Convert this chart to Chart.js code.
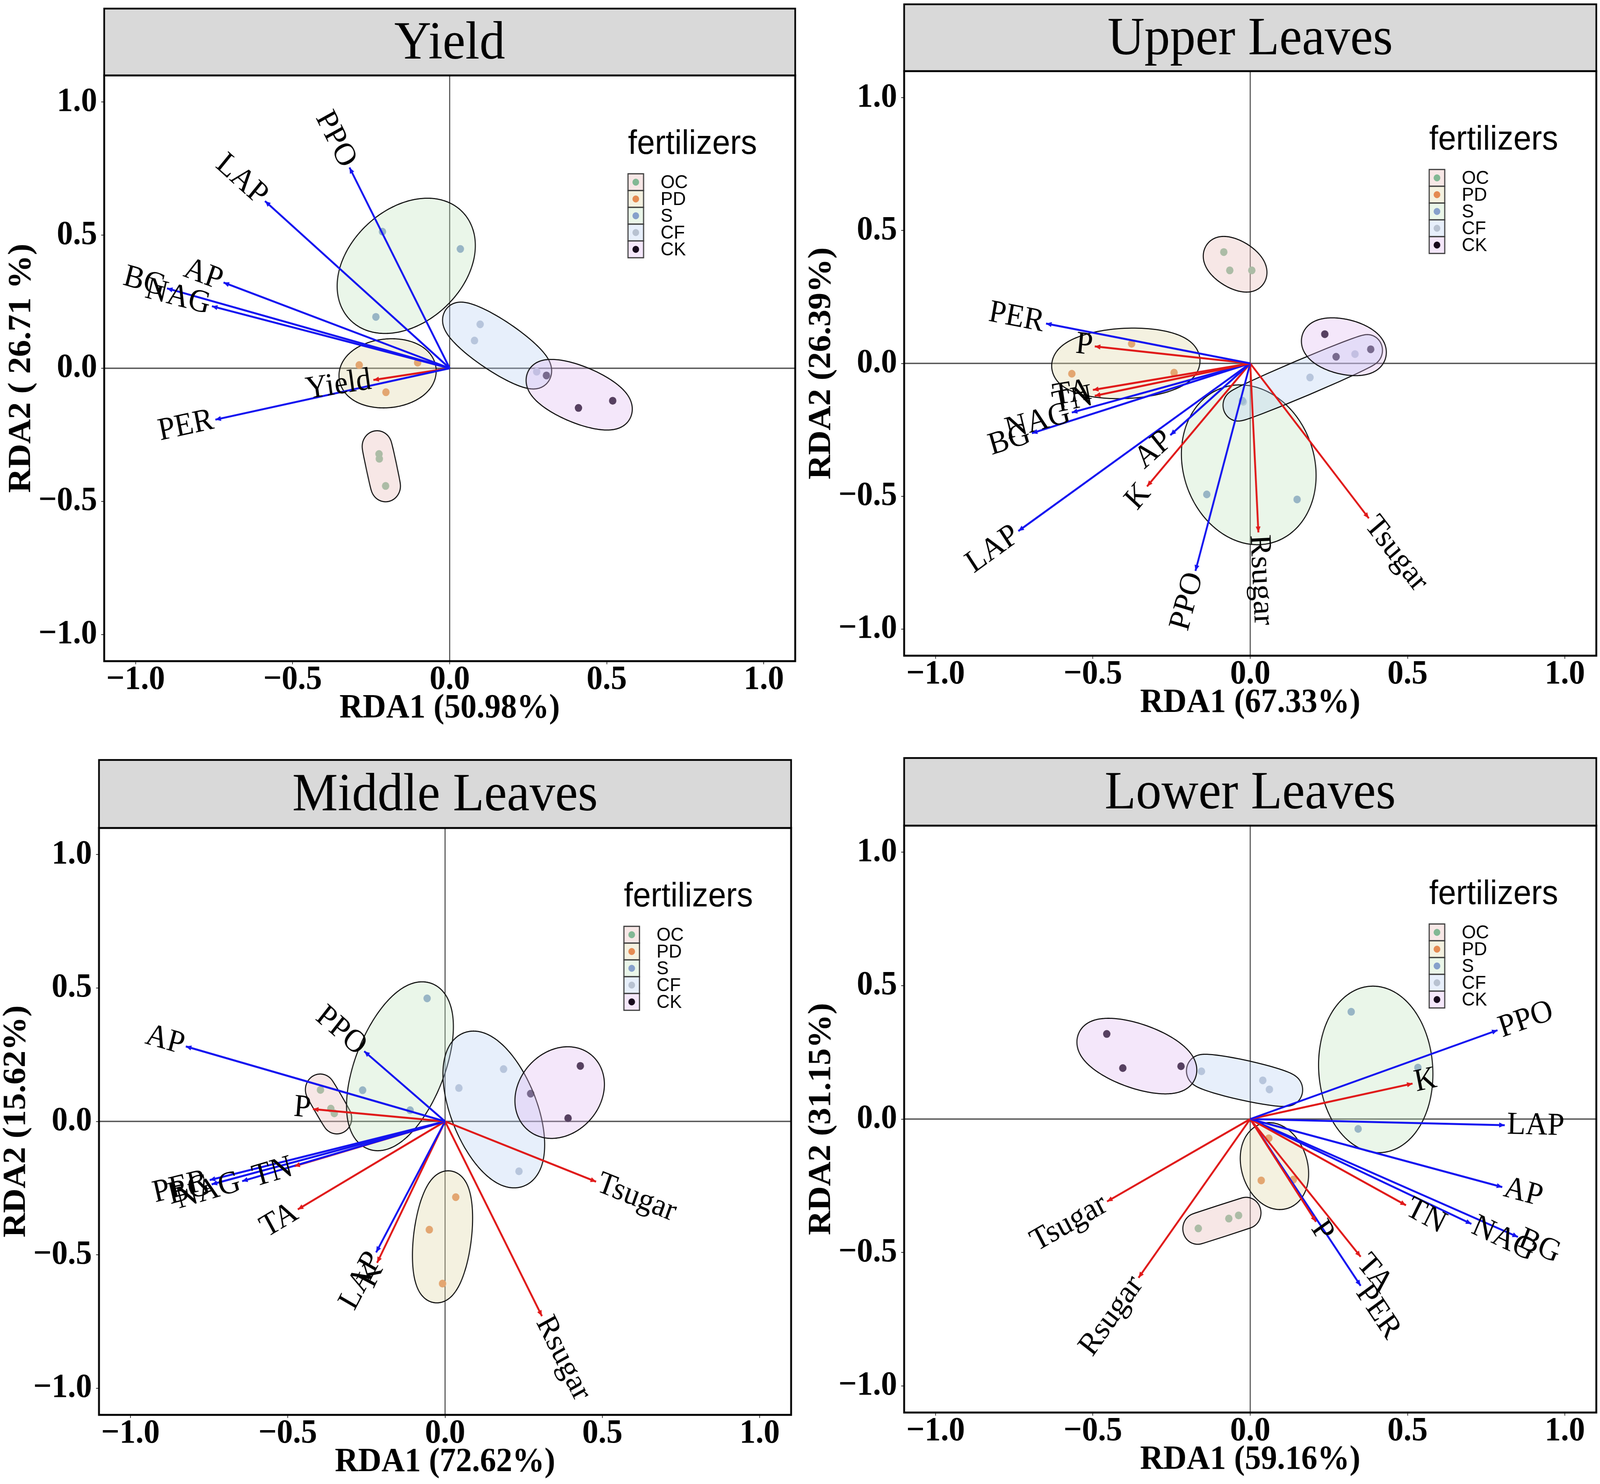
<!DOCTYPE html>
<html>
<head>
<meta charset="utf-8">
<title>RDA - fertilizers</title>
<script src="https://cdn.jsdelivr.net/npm/chart.js@4.4.1/dist/chart.umd.min.js"></script>
<style>
  html, body { margin: 0; padding: 0; background: #fff; overflow: hidden; }
  #page { position: relative; background: #fff; overflow: hidden; }
  #page canvas { position: absolute; }
</style>
</head>
<body>
<div id="page">
  <canvas id="yieldChart"></canvas>
  <canvas id="upperChart"></canvas>
  <canvas id="middleChart"></canvas>
  <canvas id="lowerChart"></canvas>
</div>
<script>
// ------------------------------ data ------------------------------ //
const TICKS = [-1, -0.5, 0, 0.5, 1];
const GROUPS = ['OC', 'PD', 'S', 'CF', 'CK'];
// 15 samples per panel, 3 per fertilizer, always in this order
const SAMPLE_GROUP = ['OC', 'OC', 'OC', 'PD', 'PD', 'PD', 'S', 'S', 'S', 'CF', 'CF', 'CF', 'CK', 'CK', 'CK'];
// variables drawn in red, the rest (enzymes) in blue
const QUALITY_VARS = ['Yield', 'TN', 'TA', 'P', 'K', 'Rsugar', 'Tsugar'];

const PANEL_TITLES = ['Yield', 'Upper Leaves', 'Middle Leaves', 'Lower Leaves'];
const X_TITLES = ['RDA1 (50.98%)', 'RDA1 (67.33%)', 'RDA1 (72.62%)', 'RDA1 (59.16%)'];
const Y_TITLES = ['RDA2 ( 26.71 %)', 'RDA2 (26.39%)', 'RDA2 (15.62%)', 'RDA2 (31.15%)'];

// Yield
const yieldVars = ['PPO', 'LAP', 'AP', 'BG', 'NAG', 'PER', 'Yield'];
const yieldVarX = [-0.319, -0.588, -0.720, -0.900, -0.757, -0.746, -0.243];
const yieldVarY = [0.754, 0.628, 0.322, 0.300, 0.233, -0.193, -0.044];
const yieldSampleX = [-0.225, -0.224, -0.204, -0.288, -0.102, -0.203, -0.214, 0.034, -0.235, 0.097, 0.079, 0.277, 0.308, 0.410, 0.519];
const yieldSampleY = [-0.322, -0.340, -0.442, 0.012, 0.021, -0.090, 0.513, 0.448, 0.193, 0.165, 0.104, -0.013, -0.027, -0.149, -0.122];

// Upper leaves
const upperVars = ['PER', 'P', 'TA', 'TN', 'NAG', 'BG', 'AP', 'K', 'LAP', 'PPO', 'Rsugar', 'Tsugar'];
const upperVarX = [-0.649, -0.494, -0.500, -0.494, -0.567, -0.694, -0.254, -0.328, -0.737, -0.174, 0.026, 0.377];
const upperVarY = [0.150, 0.064, -0.100, -0.122, -0.185, -0.263, -0.270, -0.463, -0.631, -0.781, -0.636, -0.583];
const upperSampleX = [-0.084, -0.065, 0.005, -0.377, -0.567, -0.242, -0.138, 0.149, -0.025, 0.333, 0.190, -0.022, 0.237, 0.273, 0.383];
const upperSampleY = [0.419, 0.350, 0.350, 0.074, -0.039, -0.035, -0.493, -0.512, -0.140, 0.035, -0.053, -0.145, 0.110, 0.025, 0.053];

// Middle leaves
const middleVars = ['AP', 'PPO', 'P', 'PER', 'BG', 'NAG', 'TN', 'TA', 'LAP', 'K', 'Tsugar', 'Rsugar'];
const middleVarX = [-0.824, -0.257, -0.420, -0.748, -0.742, -0.645, -0.479, -0.468, -0.219, -0.216, 0.480, 0.308];
const middleVarY = [0.281, 0.263, 0.046, -0.220, -0.236, -0.224, -0.168, -0.330, -0.491, -0.530, -0.226, -0.730];
const middleSampleX = [-0.396, -0.363, -0.352, 0.034, -0.050, -0.008, -0.057, -0.262, -0.111, 0.186, 0.044, 0.235, 0.430, 0.272, 0.391];
const middleSampleY = [0.118, 0.048, 0.030, -0.284, -0.406, -0.608, 0.461, 0.117, 0.042, 0.196, 0.125, -0.187, 0.208, 0.104, 0.012];

// Lower leaves
const lowerVars = ['PPO', 'K', 'LAP', 'AP', 'TN', 'NAG', 'BG', 'P', 'TA', 'PER', 'Tsugar', 'Rsugar'];
const lowerVarX = [0.786, 0.516, 0.809, 0.801, 0.495, 0.703, 0.851, 0.209, 0.351, 0.351, -0.455, -0.355];
const lowerVarY = [0.333, 0.133, -0.023, -0.255, -0.323, -0.393, -0.442, -0.385, -0.516, -0.625, -0.309, -0.595];
const lowerSampleX = [-0.165, -0.068, -0.037, 0.059, 0.035, 0.137, 0.321, 0.533, 0.343, -0.155, 0.040, 0.061, -0.456, -0.405, -0.220];
const lowerSampleY = [-0.410, -0.373, -0.361, -0.072, -0.230, -0.227, 0.402, 0.193, -0.037, 0.179, 0.145, 0.111, 0.319, 0.191, 0.198];

// ------------------------------ style ------------------------------ //
const SERIF = '"Liberation Serif", "Times New Roman", serif';
const SANS = '"Liberation Sans", Arial, sans-serif';
const GROUP_COLOR = { OC: '#82b894', PD: '#e48a52', S: '#86a0cb', CF: '#b8c2d1', CK: '#170a1c' };
const GROUP_FILL = {
    OC: 'rgba(236, 196, 192, 0.40)',
    PD: 'rgba(225, 215, 168, 0.36)',
    S: 'rgba(190, 226, 186, 0.32)',
    CF: 'rgba(180, 206, 242, 0.32)',
    CK: 'rgba(222, 180, 238, 0.32)'
};
const BLUE = '#1414f0';
const RED = '#e01a1a';

// the picture is laid out on a 4317 x 3800 grid and stretched to fill the window
const PAGE_W = 4317, PAGE_H = 3800;
const SX = (window.innerWidth || PAGE_W) / PAGE_W;
const SY = (window.innerHeight || PAGE_H) / PAGE_H;

// canvas position on the page + plot area inside the canvas
const LAYOUT = [
    { left: 0, top: 0, w: 2158, h: 1900, l: 281, t: 193, r: 2145, b: 1693, strip: 22 },
    { left: 2158, top: 0, w: 2159, h: 1900, l: 281, t: 182, r: 2150, b: 1679, strip: 11 },
    { left: 0, top: 1900, w: 2158, h: 1900, l: 267, t: 220, r: 2134, b: 1723, strip: 46 },
    { left: 2158, top: 1900, w: 2159, h: 1900, l: 281, t: 214, r: 2150, b: 1717, strip: 41 }
];
const X_BOX = 174;   // height of x scale box (ticks + title)
const Y_BOX = 275;   // width of y scale box
const EXPAND = 40;   // ellipse expansion in px

function fmtTick(v) {
    const s = Math.abs(v).toFixed(1);
    return v < 0 ? '\u2212' + s : s;
}

// minimum enclosing ellipse of 3 points (Steiner circumellipse), pushed outward by `expand`
function ellipsePath(ctx, pts, expand) {
    const n = pts.length;
    let cx = 0, cy = 0;
    pts.forEach(p => { cx += p[0]; cy += p[1]; });
    cx /= n; cy /= n;
    let sxx = 0, syy = 0, sxy = 0;
    pts.forEach(p => {
        const dx = p[0] - cx, dy = p[1] - cy;
        sxx += dx * dx; syy += dy * dy; sxy += dx * dy;
    });
    sxx = 2 * sxx / n; syy = 2 * syy / n; sxy = 2 * sxy / n;
    const tr = sxx + syy, det = sxx * syy - sxy * sxy;
    const disc = Math.sqrt(Math.max(tr * tr / 4 - det, 0));
    const l1 = tr / 2 + disc, l2 = Math.max(tr / 2 - disc, 0);
    const a = Math.max(Math.sqrt(l1), 0.5), b = Math.max(Math.sqrt(l2), 0.5);
    const th = Math.abs(sxy) < 1e-9 ? (sxx >= syy ? 0 : Math.PI / 2) : Math.atan2(l1 - sxx, sxy);
    const c = Math.cos(th), s = Math.sin(th);
    ctx.beginPath();
    // walk the outward normal angle so that thin ellipses get round caps
    for (let i = 0; i <= 360; i++) {
        const phi = i / 360 * Math.PI * 2;
        const cp = Math.cos(phi), sp = Math.sin(phi);
        const den = Math.sqrt(a * a * cp * cp + b * b * sp * sp);
        const lx = a * a * cp / den + expand * cp;
        const ly = b * b * sp / den + expand * sp;
        const X = cx + lx * c - ly * s, Y = cy + lx * s + ly * c;
        if (i === 0) ctx.moveTo(X, Y); else ctx.lineTo(X, Y);
    }
    ctx.closePath();
}

function makeRdaPlugin(cfg) {
    return {
        id: 'rda',
        beforeDatasetsDraw(chart) {
            const { ctx, chartArea: a, scales: { x, y } } = chart;
            ctx.save();
            // zero lines
            ctx.strokeStyle = '#555';
            ctx.lineWidth = 3.5;
            ctx.beginPath();
            ctx.moveTo(a.left, y.getPixelForValue(0));
            ctx.lineTo(a.right, y.getPixelForValue(0));
            ctx.stroke();
            ctx.strokeStyle = '#333';
            ctx.lineWidth = 2.5;
            ctx.beginPath();
            ctx.moveTo(x.getPixelForValue(0), a.top);
            ctx.lineTo(x.getPixelForValue(0), a.bottom);
            ctx.stroke();
            ctx.restore();
        },
        afterDatasetDraw(chart, args) {
            // ellipses go over the points and under the arrows
            if (args.index !== cfg.firstPointSet) return;
            const { ctx, chartArea: a, scales: { x, y } } = chart;
            ctx.save();
            ctx.beginPath();
            ctx.rect(a.left, a.top, a.right - a.left, a.bottom - a.top);
            ctx.clip();
            GROUPS.forEach(g => {
                const pts = [];
                SAMPLE_GROUP.forEach((gg, i) => {
                    if (gg === g) pts.push([x.getPixelForValue(cfg.sx[i]), y.getPixelForValue(cfg.sy[i])]);
                });
                ellipsePath(ctx, pts, EXPAND);
                ctx.fillStyle = GROUP_FILL[g];
                ctx.fill();
                ctx.strokeStyle = '#111';
                ctx.lineWidth = 2.8;
                ctx.stroke();
            });
            ctx.restore();
        },
        afterDatasetsDraw(chart) {
            const { ctx, scales: { x, y } } = chart;
            const ox = x.getPixelForValue(0), oy = y.getPixelForValue(0);
            ctx.save();
            cfg.vars.forEach((v, i) => {
                const tx = x.getPixelForValue(cfg.vx[i]), ty = y.getPixelForValue(cfg.vy[i]);
                const len = Math.hypot(tx - ox, ty - oy);
                const ux = (tx - ox) / len, uy = (ty - oy) / len;
                // arrow head
                const hl = 15, hw = 6.5;
                ctx.fillStyle = QUALITY_VARS.includes(v) ? RED : BLUE;
                ctx.beginPath();
                ctx.moveTo(tx, ty);
                ctx.lineTo(tx - ux * hl - uy * hw, ty - uy * hl + ux * hw);
                ctx.lineTo(tx - ux * hl + uy * hw, ty - uy * hl - ux * hw);
                ctx.closePath();
                ctx.fill();
                // label just beyond the tip, along the arrow
                ctx.font = '82px ' + SERIF;
                const w = ctx.measureText(v).width;
                let ang = Math.atan2(uy, ux);
                if (ang > Math.PI / 2) ang -= Math.PI;
                if (ang < -Math.PI / 2) ang += Math.PI;
                const d = w / 2 + 6;
                ctx.save();
                ctx.translate(tx + ux * d, ty + uy * d);
                ctx.rotate(ang);
                ctx.fillStyle = '#000';
                ctx.textAlign = 'center';
                ctx.textBaseline = 'middle';
                ctx.fillText(v, 0, 0);
                ctx.restore();
            });
            ctx.restore();
        },
        afterDraw(chart) {
            const { ctx, chartArea: a } = chart;
            ctx.save();
            // panel border
            ctx.strokeStyle = '#000';
            ctx.lineWidth = 5;
            ctx.strokeRect(a.left, a.top, a.right - a.left, a.bottom - a.top);
            // title strip
            ctx.fillStyle = '#d9d9d9';
            ctx.fillRect(a.left, cfg.stripTop, a.right - a.left, a.top - cfg.stripTop);
            ctx.lineWidth = 4.5;
            ctx.strokeRect(a.left, cfg.stripTop, a.right - a.left, a.top - cfg.stripTop);
            ctx.fillStyle = '#000';
            ctx.font = '138px ' + SERIF;
            ctx.textAlign = 'center';
            ctx.textBaseline = 'middle';
            ctx.fillText(cfg.title, (a.left + a.right) / 2, (cfg.stripTop + a.top) / 2 + 6);
            // legend
            const lx = a.right - 451;
            ctx.textAlign = 'left';
            ctx.textBaseline = 'alphabetic';
            ctx.font = '87px ' + SANS;
            ctx.fillText('fertilizers', lx, a.top + 201);
            const keyW = 42, keyH = 43, keyTop = a.top + 252;
            GROUPS.forEach((g, i) => {
                const ky = keyTop + i * keyH;
                ctx.fillStyle = '#fff';
                ctx.fillRect(lx, ky, keyW, keyH);
                ctx.fillStyle = GROUP_FILL[g];
                ctx.fillRect(lx, ky, keyW, keyH);
                ctx.strokeStyle = '#3a3a3a';
                ctx.lineWidth = 3;
                ctx.strokeRect(lx, ky, keyW, keyH);
                ctx.fillStyle = GROUP_COLOR[g];
                ctx.beginPath();
                ctx.arc(lx + keyW / 2, ky + keyH / 2, 9, 0, Math.PI * 2);
                ctx.fill();
                ctx.fillStyle = '#000';
                ctx.font = '49px ' + SANS;
                ctx.textBaseline = 'middle';
                ctx.fillText(g, lx + 88, ky + keyH / 2 + 2);
            });
            ctx.restore();
        }
    };
}

function placeCanvas(canvas, geo) {
    canvas.style.left = (geo.left * SX) + 'px';
    canvas.style.top = (geo.top * SY) + 'px';
    canvas.style.width = (geo.w * SX) + 'px';
    canvas.style.height = (geo.h * SY) + 'px';
}

function makePanel(canvasId, k, vars, vx, vy, sx, sy) {
    const geo = LAYOUT[k];
    const canvas = document.getElementById(canvasId);
    // drawing buffer in picture pixels, shown scaled to the window
    canvas.width = geo.w;
    canvas.height = geo.h;
    placeCanvas(canvas, geo);

    const arrows = vars.map((v, i) => ({
        label: v,
        data: [{ x: 0, y: 0 }, { x: vx[i], y: vy[i] }],
        showLine: true,
        borderColor: QUALITY_VARS.includes(v) ? RED : BLUE,
        borderWidth: 5,
        pointRadius: 0,
        fill: false
    }));
    const points = GROUPS.map(g => ({
        label: g,
        data: SAMPLE_GROUP.map((gg, i) => gg === g ? { x: sx[i], y: sy[i] } : null).filter(p => p),
        showLine: false,
        pointRadius: 10,
        pointBackgroundColor: GROUP_COLOR[g],
        pointBorderWidth: 0
    }));

    const tickFont = { family: SERIF, size: 87, weight: 'bold', lineHeight: 0.9 };
    const titleFont = { family: SERIF, size: 87, weight: 'bold', lineHeight: 1.2 };

    const chart = new Chart(canvas.getContext('2d'), {
        type: 'scatter',
        data: { datasets: arrows.concat(points) },
        options: {
            responsive: false,
            devicePixelRatio: 1,
            animation: false,
            events: [],
            layout: {
                padding: {
                    left: geo.l - Y_BOX,
                    top: geo.t,
                    right: geo.w - geo.r,
                    bottom: geo.h - geo.b - X_BOX
                }
            },
            plugins: {
                legend: { display: false },
                tooltip: { enabled: false }
            },
            scales: {
                x: {
                    type: 'linear',
                    min: -1.1,
                    max: 1.1,
                    afterBuildTicks: s => { s.ticks = TICKS.map(v => ({ value: v })); },
                    afterFit: s => { s.height = X_BOX; },
                    ticks: {
                        callback: v => fmtTick(v),
                        font: tickFont,
                        color: '#000',
                        padding: 1,
                        autoSkip: false,
                        maxRotation: 0,
                        minRotation: 0
                    },
                    grid: { drawOnChartArea: false, tickLength: 8, color: '#333', lineWidth: 2 },
                    border: { display: false },
                    title: { display: true, text: X_TITLES[k], font: titleFont, color: '#000', padding: 0 }
                },
                y: {
                    type: 'linear',
                    min: -1.1,
                    max: 1.1,
                    afterBuildTicks: s => { s.ticks = TICKS.map(v => ({ value: v })); },
                    afterFit: s => { s.width = Y_BOX; },
                    ticks: {
                        callback: v => fmtTick(v),
                        font: tickFont,
                        color: '#000',
                        padding: 11,
                        autoSkip: false
                    },
                    grid: { drawOnChartArea: false, tickLength: 8, color: '#333', lineWidth: 2 },
                    border: { display: false },
                    title: { display: true, text: Y_TITLES[k], font: titleFont, color: '#000', padding: 0 }
                }
            }
        },
        plugins: [makeRdaPlugin({
            title: PANEL_TITLES[k],
            stripTop: geo.strip,
            firstPointSet: arrows.length,
            vars: vars, vx: vx, vy: vy, sx: sx, sy: sy
        })]
    });
    // keep the scaled display size
    placeCanvas(canvas, geo);
    return chart;
}

const page = document.getElementById('page');
page.style.width = (PAGE_W * SX) + 'px';
page.style.height = (PAGE_H * SY) + 'px';

makePanel('yieldChart', 0, yieldVars, yieldVarX, yieldVarY, yieldSampleX, yieldSampleY);
makePanel('upperChart', 1, upperVars, upperVarX, upperVarY, upperSampleX, upperSampleY);
makePanel('middleChart', 2, middleVars, middleVarX, middleVarY, middleSampleX, middleSampleY);
makePanel('lowerChart', 3, lowerVars, lowerVarX, lowerVarY, lowerSampleX, lowerSampleY);
</script>
</body>
</html>
